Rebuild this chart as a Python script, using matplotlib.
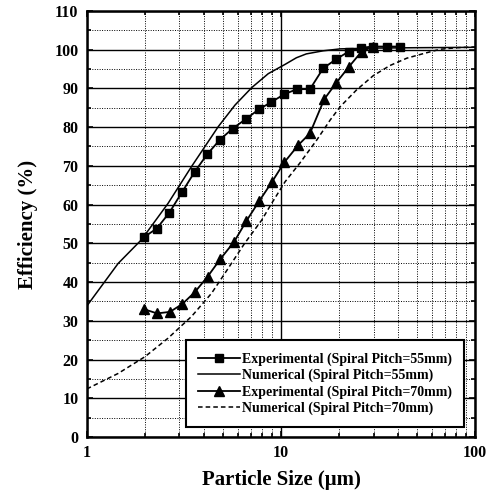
import numpy as np
import matplotlib
matplotlib.use('Agg')
import matplotlib.pyplot as plt
from matplotlib.ticker import LogLocator, MultipleLocator, NullFormatter, FixedLocator, FixedFormatter

plt.rcParams['font.family'] = ['Liberation Serif', 'DejaVu Serif']

# 实验数据 (Spiral Pitch=55mm)
x_exp55 = [1.97, 2.29, 2.66, 3.10, 3.60, 4.17, 4.86, 5.63, 6.6, 7.7, 8.88, 10.4, 12.1, 14.1,
           16.5, 19.2, 22.3, 25.8, 29.9, 35.1, 41.1]
y_exp55 = [51.6, 53.8, 57.9, 63.3, 68.5, 73.0, 76.8, 79.6, 82.1, 84.6, 86.4, 88.5, 89.8, 89.8,
           95.2, 97.5, 99.5, 100.5, 100.8, 100.8, 100.8]
# 数值模拟 (55mm)
x_num55 = [1.0, 1.45, 1.91, 2.62, 3.46, 4.75, 5.8, 7.07, 8.6, 10.5, 12.0, 13.5, 16.5, 20.2,
           30, 50, 100]
y_num55 = [33.8, 44.8, 50.9, 60.3, 69.8, 80.1, 85.7, 90.2, 93.8, 96.2, 97.9, 98.9, 99.7, 100.2,
           100.4, 100.5, 100.6]
# 实验数据 (70mm)
x_exp70 = [1.97, 2.30, 2.68, 3.10, 3.60, 4.19, 4.88, 5.74, 6.64, 7.7, 9.0, 10.4, 12.3, 14.1,
           16.7, 19.3, 22.4, 26.0, 29.9]
y_exp70 = [33.0, 31.9, 32.3, 34.3, 37.4, 41.4, 46.0, 50.4, 55.8, 60.8, 65.9, 70.9, 75.4, 78.4,
           87.2, 91.5, 95.6, 99.5, 100.8]
# 数值模拟 (70mm)
x_num70 = [1.0, 1.45, 1.99, 2.62, 3.46, 4.39, 5.15, 6.5, 7.96, 8.95, 10.5, 12.5, 15.3, 17.9,
           20.2, 24.5, 29.9, 36.4, 44.5, 54.3, 66.0, 80.5, 100]
y_num70 = [12.4, 16.4, 20.7, 25.5, 31.1, 37.1, 42.3, 50.0, 56.0, 60.3, 65.9, 70.7, 76.7, 81.8,
           85.3, 89.6, 93.3, 95.9, 97.8, 99.0, 100.1, 100.5, 100.7]

fig = plt.figure(figsize=(4.96, 4.96), dpi=100)
ax = fig.add_axes([0.175, 0.119, 0.783, 0.859])

ax.plot(x_exp55, y_exp55, 'k-', marker='s', ms=5.5, lw=1.3,
        label='Experimental (Spiral Pitch=55mm)')
ax.plot(x_num55, y_num55, 'k-', lw=1.1, label='Numerical (Spiral Pitch=55mm)')
ax.plot(x_exp70, y_exp70, 'k-', marker='^', ms=6.5, lw=1.3,
        label='Experimental (Spiral Pitch=70mm)')
ax.plot(x_num70, y_num70, 'k--', lw=1.1, dashes=(3, 2), label='Numerical (Spiral Pitch=70mm)')

ax.set_xscale('log')
ax.set_xlim(1, 100)
ax.set_ylim(0, 110)
ax.xaxis.set_major_locator(FixedLocator([1, 10, 100]))
ax.xaxis.set_major_formatter(FixedFormatter(['1', '10', '100']))
ax.xaxis.set_minor_locator(LogLocator(base=10, subs=np.arange(2, 10)))
ax.xaxis.set_minor_formatter(NullFormatter())
ax.yaxis.set_major_locator(MultipleLocator(10))
ax.yaxis.set_minor_locator(MultipleLocator(5))

ax.grid(which='major', color='k', ls='-', lw=1.0)
ax.grid(which='minor', color='k', ls=(0, (1, 1.5)), lw=0.7)
ax.tick_params(which='both', direction='in', top=True, right=True, width=1.2)
ax.tick_params(which='major', length=4, labelsize=11.5, pad=6)
ax.tick_params(which='minor', length=3)
for lab in ax.get_xticklabels() + ax.get_yticklabels():
    lab.set_fontweight('bold')
for s in ax.spines.values():
    s.set_linewidth(1.8)

ax.set_xlabel('Particle Size (μm)', fontsize=15, fontweight='bold', labelpad=6)
ax.set_ylabel('Efficiency (%)', fontsize=15, fontweight='bold', labelpad=12)

leg = ax.legend(loc='lower right', bbox_to_anchor=(0.972, 0.023), borderaxespad=0,
                prop={'weight': 'bold', 'size': 10}, fancybox=False, framealpha=1,
                edgecolor='k', handlelength=3.0, handletextpad=0.2, borderpad=0.85,
                labelspacing=0.22)
leg.get_frame().set_linewidth(1.5)

fig.savefig('out.png', dpi=100)
